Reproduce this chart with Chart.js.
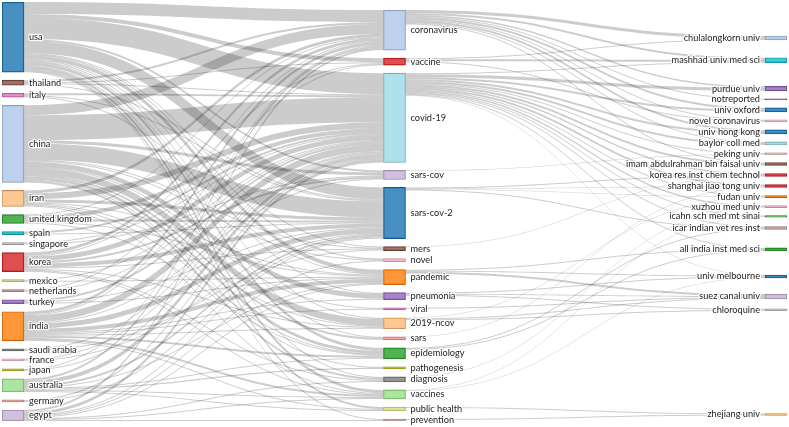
<!DOCTYPE html>
<html>
<head>
<meta charset="utf-8">
<script src="https://cdn.jsdelivr.net/npm/chart.js@4.4.0/dist/chart.umd.min.js"></script>
<style>html,body{margin:0;padding:0;background:#fff}</style>
</head>
<body>
<canvas id="chart" width="789" height="427"></canvas>
<script>
// left field: countries
const countries = ["usa","thailand","italy","china","iran","united kingdom","spain","singapore","korea","mexico",
  "netherlands","turkey","india","saudi arabia","france","japan","australia","germany","egypt"]
const countryColors = ["#1f77b4","#8c564b","#e377c2","#aec7e8","#ffbb78","#2ca02c","#17becf","#c7c7c7","#d62728","#dbdb8d",
  "#c49c94","#9467bd","#ff7f0e","#7f7f7f","#f7b6d2","#bcbd22","#98df8a","#ff9896","#c5b0d5"]

// middle field: keywords
const keywords = ["coronavirus","vaccine","covid-19","sars-cov","sars-cov-2","mers","novel","pandemic","pneumonia","viral",
  "2019-ncov","sars","epidemiology","pathogenesis","diagnosis","vaccines","public health","prevention"]
const keywordColors = ["#aec7e8","#d62728","#9edae5","#c5b0d5","#1f77b4","#8c564b","#f7b6d2","#ff7f0e","#9467bd","#e377c2",
  "#ffbb78","#ff9896","#2ca02c","#bcbd22","#7f7f7f","#98df8a","#dbdb8d","#c49c94"]

// right field: affiliations
const affiliations = ["chulalongkorn univ","mashhad univ med sci","purdue univ","notreported","univ oxford","novel coronavirus",
  "univ hong kong","baylor coll med","peking univ","imam abdulrahman bin faisal univ","korea res inst chem technol",
  "shanghai jiao tong univ","fudan univ","xuzhou med univ","icahn sch med mt sinai","icar indian vet res inst",
  "all india inst med sci","univ melbourne","suez canal univ","chloroquine","zhejiang univ"]
const affiliationColors = ["#aec7e8","#17becf","#9467bd","#8c2d6b","#1f77b4","#f7b6d2","#1f77b4","#9edae5","#c49c94","#8c564b",
  "#d62728","#d62728","#ff7f0e","#f7b6d2","#2ca02c","#c49c94","#2ca02c","#1f77b4","#c5b0d5","#c7c7c7","#ffbb78"]

// country -> keyword
const countryKeywordLinks = [
  ["usa","coronavirus",12],["usa","vaccine",4],["usa","covid-19",21],["usa","sars-cov",2],["usa","sars-cov-2",12],["usa","mers",1],
  ["usa","novel",1],["usa","pandemic",4],["usa","pneumonia",1],["usa","2019-ncov",1],["usa","sars",1],["usa","epidemiology",3],
  ["usa","diagnosis",1],["usa","vaccines",3],["usa","public health",2],["usa","prevention",1],
  ["thailand","coronavirus",2],["thailand","vaccine",1],["thailand","covid-19",1],["thailand","sars-cov-2",1],
  ["italy","covid-19",2],["italy","sars-cov-2",1],["italy","pandemic",1],
  ["china","coronavirus",10],["china","covid-19",25],["china","sars-cov",3],["china","sars-cov-2",16],["china","mers",1],
  ["china","novel",1],["china","pneumonia",5],["china","viral",1],["china","2019-ncov",7],["china","sars",2],
  ["china","epidemiology",3],["china","pathogenesis",1],["china","diagnosis",2],
  ["iran","coronavirus",3],["iran","covid-19",6],["iran","sars-cov-2",3],["iran","pandemic",1],["iran","2019-ncov",1],
  ["iran","epidemiology",1],["iran","vaccines",1],
  ["united kingdom","coronavirus",1],["united kingdom","covid-19",4],["united kingdom","sars-cov-2",2],
  ["united kingdom","pandemic",1],["united kingdom","epidemiology",1],
  ["spain","covid-19",2],["spain","sars-cov-2",1],
  ["singapore","covid-19",1],["singapore","sars-cov",1],
  ["korea","coronavirus",3],["korea","vaccine",1],["korea","covid-19",5],["korea","sars-cov",2],["korea","sars-cov-2",4],
  ["korea","mers",1],["korea","2019-ncov",1],["korea","diagnosis",1],["korea","vaccines",1],
  ["mexico","covid-19",1],["mexico","pandemic",1],
  ["netherlands","coronavirus",1],["netherlands","covid-19",1],
  ["turkey","covid-19",2],["turkey","sars-cov-2",1],["turkey","pandemic",1],
  ["india","coronavirus",3],["india","vaccine",1],["india","covid-19",7],["india","sars-cov",1],["india","sars-cov-2",5],
  ["india","pandemic",4],["india","pneumonia",1],["india","viral",1],["india","2019-ncov",1],["india","epidemiology",2],
  ["india","vaccines",2],["india","public health",1],
  ["saudi arabia","covid-19",1],["saudi arabia","mers",1],
  ["france","covid-19",1],["france","sars-cov-2",1],
  ["japan","coronavirus",1],["japan","covid-19",1],
  ["australia","coronavirus",2],["australia","covid-19",4],["australia","sars-cov-2",2],["australia","pandemic",1],
  ["australia","epidemiology",1],["australia","pathogenesis",1],["australia","vaccines",1],["australia","public health",1],
  ["germany","covid-19",1],["germany","sars-cov-2",1],
  ["egypt","coronavirus",2],["egypt","covid-19",3],["egypt","sars-cov-2",1],["egypt","novel",1],["egypt","pandemic",1],
  ["egypt","diagnosis",1],["egypt","vaccines",1],["egypt","prevention",1]
]

// keyword -> affiliation
const keywordAffLinks = [
  ["coronavirus","chulalongkorn univ",3],["vaccine","chulalongkorn univ",1],
  ["vaccine","mashhad univ med sci",2],["coronavirus","mashhad univ med sci",2],["covid-19","mashhad univ med sci",1],
  ["covid-19","purdue univ",3],["coronavirus","purdue univ",1.5],
  ["coronavirus","notreported",1],
  ["coronavirus","univ oxford",2],["covid-19","univ oxford",2],
  ["coronavirus","novel coronavirus",1],["vaccine","novel coronavirus",1],
  ["coronavirus","univ hong kong",2],["covid-19","univ hong kong",2],
  ["covid-19","baylor coll med",2],["coronavirus","baylor coll med",1],
  ["covid-19","peking univ",1],["sars-cov","peking univ",0.5],
  ["covid-19","imam abdulrahman bin faisal univ",2],["coronavirus","imam abdulrahman bin faisal univ",1],
  ["covid-19","korea res inst chem technol",1.5],["sars-cov-2","korea res inst chem technol",1],["mers","korea res inst chem technol",0.5],
  ["covid-19","shanghai jiao tong univ",2],["sars-cov-2","shanghai jiao tong univ",0.5],["sars","shanghai jiao tong univ",0.5],
  ["covid-19","fudan univ",1],["sars-cov-2","fudan univ",0.5],["2019-ncov","fudan univ",0.5],
  ["covid-19","xuzhou med univ",1.5],["diagnosis","xuzhou med univ",0.5],
  ["covid-19","icahn sch med mt sinai",1],["vaccines","icahn sch med mt sinai",0.5],
  ["sars-cov-2","icar indian vet res inst",1],["covid-19","icar indian vet res inst",1],["epidemiology","icar indian vet res inst",1],
  ["pandemic","all india inst med sci",1],["epidemiology","all india inst med sci",1],["covid-19","all india inst med sci",1],
  ["pandemic","univ melbourne",1],["pneumonia","univ melbourne",1],["covid-19","univ melbourne",0.5],["vaccines","univ melbourne",0.5],
  ["pandemic","suez canal univ",2],["2019-ncov","suez canal univ",1],["pneumonia","suez canal univ",1],["viral","suez canal univ",1],
  ["2019-ncov","chloroquine",1],["pneumonia","chloroquine",1],
  ["public health","zhejiang univ",1],["prevention","zhejiang univ",1]
]

const pad = 8
const fields = [countries, keywords, affiliations]
const fieldColors = [countryColors, keywordColors, affiliationColors]
const nodes = []
const byKey = {}
const links = []

fields.forEach((names, c) => names.forEach((name, i) => {
  const node = {name, col: c, color: fieldColors[c][i], inV: 0, outV: 0, out: [], inc: []}
  nodes.push(node)
  byKey[c + ':' + name] = node
}))

function addLink(s, t, v){
  const l = {s, t, v}
  s.outV += v; t.inV += v
  s.out.push(l); t.inc.push(l)
  links.push(l)
}
countryKeywordLinks.forEach(([s, t, v]) => addLink(byKey['0:' + s], byKey['1:' + t], v))
keywordAffLinks.forEach(([s, t, v]) => addLink(byKey['1:' + s], byKey['2:' + t], v))
nodes.forEach(n => n.value = Math.max(n.inV, n.outV))

const cols = [0, 1, 2].map(c => nodes.filter(n => n.col === c))

function stack(list){
  let y = 0
  list.forEach(n => { n.y0 = y; n.y1 = y + n.value; y = n.y1 + pad })
  return y - pad
}
const h0 = stack(cols[0]), h1 = stack(cols[1])
const totalH = Math.max(h0, h1)
cols[1].forEach(n => { n.y0 += totalH - h1; n.y1 += totalH - h1 })

// right field sits next to its sources, then gets pushed apart
let prev = -pad
cols[2].forEach(n => {
  const c = n.inc.reduce((a, l) => a + l.v * (l.s.y0 + l.s.y1) / 2, 0) / n.inV
  n.y0 = Math.max(c - n.value / 2, prev + pad)
  n.y1 = n.y0 + n.value
  prev = n.y1
})
let lim = totalH
for (let i = cols[2].length - 1; i >= 0; i--){
  const n = cols[2][i]
  if (n.y1 > lim){ const d = n.y1 - lim; n.y0 -= d; n.y1 -= d }
  lim = n.y0 - pad
}

nodes.forEach(n => {
  n.out.sort((a, b) => a.t.y0 - b.t.y0)
  let y = n.y0
  n.out.forEach(l => { l.sy = y; y += l.v })
  n.inc.sort((a, b) => a.s.y0 - b.s.y0)
  y = n.y0
  n.inc.forEach(l => { l.ty = y; y += l.v })
})

function darker(hex){
  const v = parseInt(hex.slice(1), 16)
  const r = (v >> 16) * 0.75 | 0, g = ((v >> 8) & 255) * 0.75 | 0, b = (v & 255) * 0.75 | 0
  return `rgb(${r},${g},${b})`
}

const sankeyPlugin = {
  id: 'sankey',
  beforeDatasetsDraw(chart){   // the gray bands under the nodes
    const {ctx, scales: {y}} = chart
    const bars = chart.getDatasetMeta(0).data
    ctx.save()
    ctx.fillStyle = 'rgba(0,0,0,0.2)'
    links.forEach(l => {
      const sb = bars[nodes.indexOf(l.s)], tb = bars[nodes.indexOf(l.t)]
      const x0 = sb.x + sb.width / 2, x1 = tb.x - tb.width / 2, xm = (x0 + x1) / 2
      const a0 = y.getPixelForValue(l.sy), a1 = y.getPixelForValue(l.sy + l.v)
      const b0 = y.getPixelForValue(l.ty), b1 = y.getPixelForValue(l.ty + l.v)
      ctx.beginPath()
      ctx.moveTo(x0, a0)
      ctx.bezierCurveTo(xm, a0, xm, b0, x1, b0)
      ctx.lineTo(x1, b1)
      ctx.bezierCurveTo(xm, b1, xm, a1, x0, a1)
      ctx.closePath()
      ctx.fill()
    })
    ctx.restore()
  },
  afterDatasetsDraw(chart){   // node labels
    const {ctx, scales: {y}} = chart
    const bars = chart.getDatasetMeta(0).data
    ctx.save()
    ctx.font = '9.2px Lato'
    ctx.textBaseline = 'middle'
    ctx.lineJoin = 'round'
    nodes.forEach((n, i) => {
      const b = bars[i]
      const ty = y.getPixelForValue((n.y0 + n.y1) / 2)
      let tx
      if (n.col === 2){ ctx.textAlign = 'right'; tx = b.x - b.width / 2 - 5 }
      else { ctx.textAlign = 'left'; tx = b.x + b.width / 2 + 5 }
      ctx.strokeStyle = 'rgba(255,255,255,0.9)'
      ctx.lineWidth = 2.5
      ctx.strokeText(n.name, tx, ty)
      ctx.fillStyle = '#222'
      ctx.fillText(n.name, tx, ty)
    })
    ctx.restore()
  }
}

new Chart(document.getElementById('chart'), {
  type: 'bar',
  data: {
    datasets: [{
      data: nodes.map(n => ({x: n.col, y: [n.y0, n.y1]})),
      backgroundColor: nodes.map(n => n.color + 'd0'),
      borderColor: nodes.map(n => darker(n.color)),
      borderWidth: 0.8,
      borderSkipped: false,
      barThickness: 22
    }]
  },
  options: {
    responsive: false,
    animation: false,
    layout: {padding: {left: 2, right: 2, top: 2, bottom: 6}},
    scales: {
      x: {type: 'linear', min: -0.0288, max: 2.0288, offset: false, display: false},
      y: {min: 0, max: totalH, reverse: true, display: false}
    },
    plugins: {legend: {display: false}, tooltip: {enabled: false}}
  },
  plugins: [sankeyPlugin]
})
</script>
</body>
</html>
